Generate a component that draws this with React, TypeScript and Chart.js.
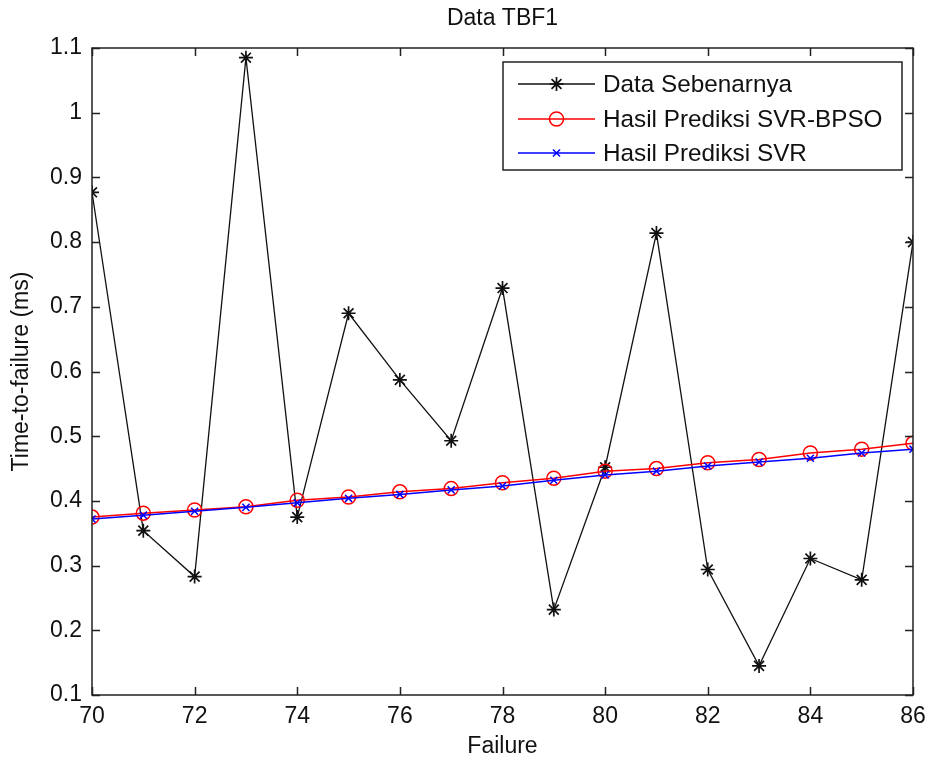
import React, { useEffect, useRef } from "react";
import { Chart, registerables } from "chart.js";

Chart.register(...registerables);

const failures = [70, 71, 72, 73, 74, 75, 76, 77, 78, 79, 80, 81, 82, 83, 84, 85, 86];
const actualValues = [0.877, 0.354, 0.283, 1.085, 0.375, 0.690, 0.587, 0.493, 0.729, 0.232, 0.452, 0.814, 0.294, 0.145, 0.311, 0.278, 0.800];
const svrBpsoValues = [0.375, 0.381, 0.386, 0.391, 0.401, 0.406, 0.414, 0.419, 0.428, 0.435, 0.446, 0.450, 0.459, 0.464, 0.474, 0.480, 0.489];
const svrValues = [0.372, 0.378, 0.384, 0.390, 0.397, 0.404, 0.410, 0.417, 0.423, 0.432, 0.440, 0.446, 0.454, 0.460, 0.466, 0.474, 0.480];
const seriesNames = ["Data Sebenarnya", "Hasil Prediksi SVR-BPSO", "Hasil Prediksi SVR"];
const titleText = "Data TBF1";
const xTitle = "Failure";
const yTitle = "Time-to-failure (ms)";

const FONT = 'Arial, "Liberation Sans", Helvetica, sans-serif';

const toPoints = (vals: number[]) => failures.map((x, i) => ({ x, y: vals[i] }));

function drawMarker(ctx: CanvasRenderingContext2D, style: string, x: number, y: number, r: number, color: string, w: number) {
  ctx.save();
  ctx.strokeStyle = color;
  ctx.lineWidth = w;
  ctx.beginPath();
  if (style === "circle") {
    ctx.arc(x, y, r, 0, Math.PI * 2);
  } else if (style === "crossRot") {
    const d = r * Math.SQRT1_2;
    ctx.moveTo(x - d, y - d);
    ctx.lineTo(x + d, y + d);
    ctx.moveTo(x - d, y + d);
    ctx.lineTo(x + d, y - d);
  } else {
    const d = r * Math.SQRT1_2;
    ctx.moveTo(x - r, y);
    ctx.lineTo(x + r, y);
    ctx.moveTo(x, y - r);
    ctx.lineTo(x, y + r);
    ctx.moveTo(x - d, y - d);
    ctx.lineTo(x + d, y + d);
    ctx.moveTo(x - d, y + d);
    ctx.lineTo(x + d, y - d);
  }
  ctx.stroke();
  ctx.restore();
}

const framePlugin = {
  id: "matlabFrame",
  afterDraw(chart: any) {
    const { ctx, chartArea } = chart;
    const { left, right, top, bottom } = chartArea;
    const xs = chart.scales.x;
    const ys = chart.scales.y;
    const tl = 8;
    ctx.save();
    ctx.strokeStyle = "#222";
    ctx.lineWidth = 1.5;
    ctx.beginPath();
    xs.ticks.forEach((t: any) => {
      const px = Math.round(xs.getPixelForValue(t.value)) + 0.5;
      ctx.moveTo(px, bottom);
      ctx.lineTo(px, bottom - tl);
      ctx.moveTo(px, top);
      ctx.lineTo(px, top + tl);
    });
    ys.ticks.forEach((t: any) => {
      const py = Math.round(ys.getPixelForValue(t.value)) + 0.5;
      ctx.moveTo(left, py);
      ctx.lineTo(left + tl, py);
      ctx.moveTo(right, py);
      ctx.lineTo(right - tl, py);
    });
    ctx.stroke();
    ctx.strokeRect(left, top, right - left, bottom - top);

    // legend box
    const lx = right - 410;
    const ly = top + 14;
    const lw = 399;
    const lh = 108;
    ctx.fillStyle = "#fff";
    ctx.fillRect(lx, ly, lw, lh);
    ctx.lineWidth = 1.5;
    ctx.strokeStyle = "#222";
    ctx.strokeRect(lx, ly, lw, lh);
    const rows = [22, 57, 91];
    chart.data.datasets.forEach((ds: any, i: number) => {
      const cy = ly + rows[i];
      const x0 = lx + 15;
      const x1 = lx + 92;
      ctx.strokeStyle = ds.borderColor;
      ctx.lineWidth = ds.borderWidth;
      ctx.beginPath();
      ctx.moveTo(x0, cy);
      ctx.lineTo(x1, cy);
      ctx.stroke();
      drawMarker(ctx, ds.pointStyle, (x0 + x1) / 2, cy, ds.pointRadius, ds.pointBorderColor, ds.pointBorderWidth);
      ctx.fillStyle = "#111";
      ctx.font = `24.3px ${FONT}`;
      ctx.textBaseline = "middle";
      ctx.textAlign = "left";
      ctx.fillText(ds.label, lx + 100, cy + 1);
    });
    ctx.restore();
  },
};

export default function App() {
  const ref = useRef<HTMLCanvasElement | null>(null);

  useEffect(() => {
    if (!ref.current) return;
    const chart = new Chart(ref.current, {
      type: "line",
      data: {
        datasets: [
          {
            label: seriesNames[0],
            data: toPoints(actualValues),
            borderColor: "#111",
            borderWidth: 1.3,
            pointStyle: "star",
            pointRadius: 7,
            pointBorderColor: "#111",
            pointBackgroundColor: "#111",
            pointBorderWidth: 1.7,
            order: 3,
          },
          {
            label: seriesNames[1],
            data: toPoints(svrBpsoValues),
            borderColor: "#ff0000",
            borderWidth: 1.5,
            pointStyle: "circle",
            pointRadius: 7,
            pointBorderColor: "#ff0000",
            pointBackgroundColor: "rgba(0,0,0,0)",
            pointBorderWidth: 1.5,
            order: 2,
          },
          {
            label: seriesNames[2],
            data: toPoints(svrValues),
            borderColor: "#0000ff",
            borderWidth: 1.5,
            pointStyle: "crossRot",
            pointRadius: 5,
            pointBorderColor: "#0000ff",
            pointBackgroundColor: "#0000ff",
            pointBorderWidth: 1.5,
            order: 1,
          },
        ],
      },
      options: {
        responsive: false,
        animation: false,
        layout: { padding: { left: 0, right: 12, top: 0, bottom: 0 } },
        plugins: {
          legend: { display: false },
          tooltip: { enabled: false },
          title: {
            display: true,
            fullSize: false,
            text: titleText,
            color: "#111",
            font: { family: FONT, size: 23, weight: "normal", lineHeight: 1.2 },
            padding: { top: 5, bottom: 15.4 },
          },
        },
        scales: {
          x: {
            type: "linear",
            min: 70,
            max: 86,
            grid: { display: false, drawTicks: false },
            border: { display: false },
            ticks: {
              stepSize: 2,
              color: "#111",
              padding: 8,
              maxRotation: 0,
              autoSkip: false,
              font: { family: FONT, size: 23, lineHeight: 1.2 },
            },
            title: {
              display: true,
              text: xTitle,
              color: "#111",
              font: { family: FONT, size: 23, lineHeight: 1.2 },
              padding: { top: 0, bottom: 3 },
            },
            afterFit: (s: any) => {
              s.height = 68;
              s.paddingLeft = 0;
              s.paddingRight = 0;
            },
          },
          y: {
            type: "linear",
            min: 0.1,
            max: 1.1,
            grid: { display: false, drawTicks: false },
            border: { display: false },
            ticks: {
              stepSize: 0.1,
              color: "#111",
              padding: 10,
              font: { family: FONT, size: 23, lineHeight: 1.2 },
              callback: (v: any) => String(Math.round(Number(v) * 10) / 10),
            },
            title: {
              display: true,
              text: yTitle,
              color: "#111",
              font: { family: FONT, size: 23, lineHeight: 1.2 },
              padding: { top: 8, bottom: 0 },
            },
            afterFit: (s: any) => {
              s.width = 92;
              s.paddingTop = 0;
              s.paddingBottom = 0;
            },
          },
        },
      },
      plugins: [framePlugin],
    } as any);
    return () => chart.destroy();
  }, []);

  return (
    <div style={{ position: "absolute", left: 0, top: 0, width: 925, height: 763, background: "#fff" }}>
      <canvas ref={ref} width={925} height={763} style={{ width: 925, height: 763, display: "block" }} />
    </div>
  );
}
